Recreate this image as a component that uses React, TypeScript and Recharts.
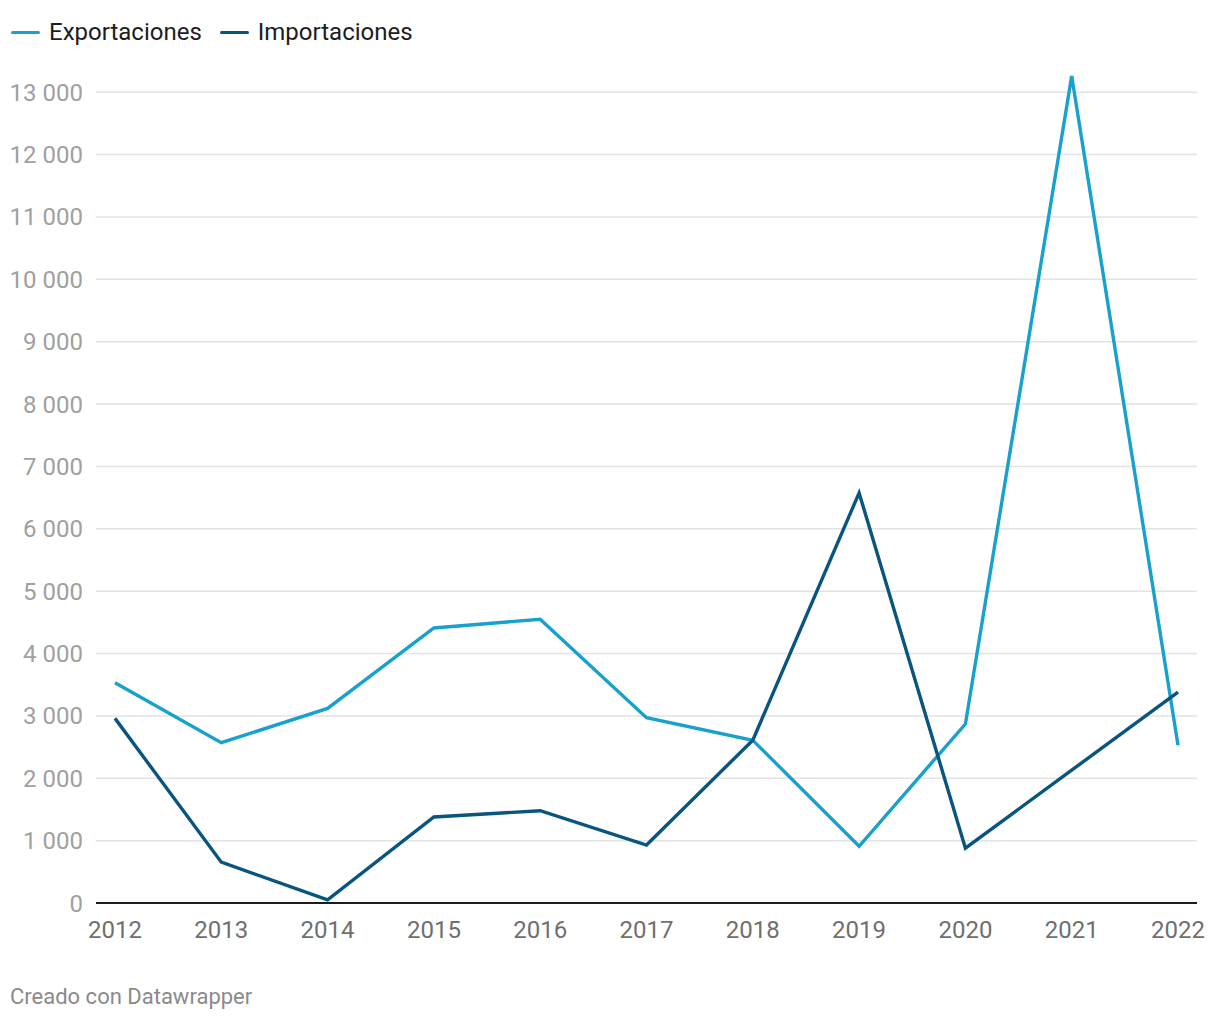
import { LineChart, Line, XAxis, YAxis, CartesianGrid } from 'recharts';

const years = ['2012', '2013', '2014', '2015', '2016', '2017', '2018', '2019', '2020', '2021', '2022'];
const exportaciones = [3530, 2570, 3120, 4410, 4550, 2970, 2610, 910, 2870, 13260, 2530];
const importaciones = [2960, 655, 50, 1380, 1480, 930, 2610, 6575, 880, 2130, 3380];
const yTicks = [0, 1000, 2000, 3000, 4000, 5000, 6000, 7000, 8000, 9000, 10000, 11000, 12000, 13000];

const EXP_COLOR = '#18a1cd';
const IMP_COLOR = '#09557f';
const FONT = 'Roboto, "Noto Sans", sans-serif';

const data = years.map((year, i) => ({
  year,
  exp: exportaciones[i],
  imp: importaciones[i],
}));

const formatThousands = (v: number) => String(v).replace(/\B(?=(\d{3})+(?!\d))/g, ' ');

function LegendItem({ color, label }: { color: string; label: string }) {
  return (
    <span style={{ display: 'inline-flex', alignItems: 'center', marginRight: 18 }}>
      <span
        style={{
          display: 'inline-block',
          width: 29,
          height: 3,
          borderRadius: 2,
          background: color,
          marginRight: 9,
        }}
      />
      <span>{label}</span>
    </span>
  );
}

export default function App() {
  return (
    <div style={{ position: 'relative', width: 1204, height: 1004, fontFamily: FONT, background: '#fff' }}>
      <div
        style={{
          position: 'absolute',
          left: 3,
          top: 10,
          fontSize: 24,
          color: '#1d1d1d',
          display: 'flex',
          alignItems: 'center',
        }}
      >
        <LegendItem color={EXP_COLOR} label="Exportaciones" />
        <LegendItem color={IMP_COLOR} label="Importaciones" />
      </div>
      <LineChart
        width={1204}
        height={960}
        data={data}
        margin={{ top: 53, right: 15, bottom: 25, left: 0 }}
        style={{ position: 'absolute', left: 0, top: 0 }}
      >
        <CartesianGrid vertical={false} horizontalValues={yTicks} stroke="#e3e3e3" strokeWidth={1.5} />
        <XAxis
          dataKey="year"
          padding={{ left: 19, right: 19 }}
          tickLine={false}
          axisLine={{ stroke: '#1d1d1d', strokeWidth: 2 }}
          tickMargin={12}
          height={40}
          interval={0}
          tick={{ fill: '#6f6f6f', fontSize: 24, fontFamily: FONT }}
        />
        <YAxis
          width={88}
          domain={[0, 13500]}
          ticks={yTicks}
          tickFormatter={formatThousands}
          tickLine={false}
          axisLine={false}
          tickMargin={7}
          interval={0}
          tick={{ fill: '#a0a0a0', fontSize: 24, fontFamily: FONT }}
        />
        <Line
          type="linear"
          dataKey="exp"
          name="Exportaciones"
          stroke={EXP_COLOR}
          strokeWidth={3.4}
          dot={false}
          isAnimationActive={false}
        />
        <Line
          type="linear"
          dataKey="imp"
          name="Importaciones"
          stroke={IMP_COLOR}
          strokeWidth={3.4}
          dot={false}
          isAnimationActive={false}
        />
      </LineChart>
      <div style={{ position: 'absolute', left: 2, top: 976, fontSize: 22, color: '#8a8a8a' }}>
        Creado con Datawrapper
      </div>
    </div>
  );
}
